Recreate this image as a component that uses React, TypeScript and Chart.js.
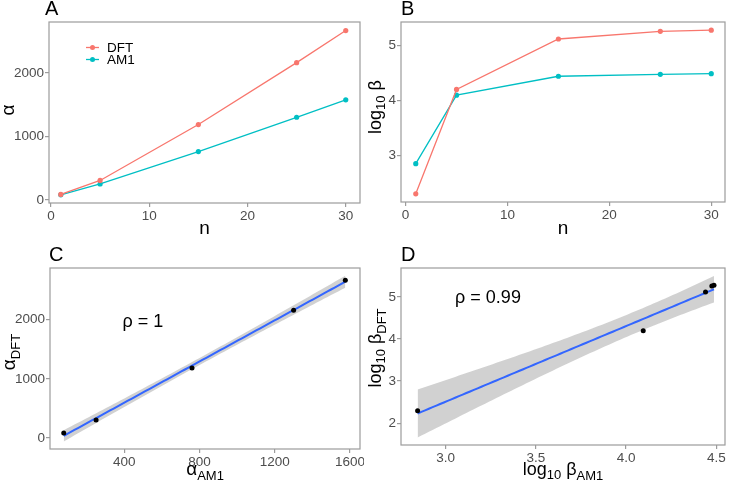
import React, { useEffect, useRef } from 'react';
import { Chart, registerables } from 'chart.js';
Chart.register(...registerables);

// ---------------- data ----------------
const nValues = [1, 5, 15, 25, 30];
const alphaDFT = [85, 305, 1185, 2160, 2665];
const alphaAM1 = [78, 250, 760, 1300, 1575];
const logBetaDFT = [2.295, 4.2, 5.12, 5.26, 5.28];
const logBetaAM1 = [2.845, 4.095, 4.44, 4.475, 4.487];
const seriesNames = ['DFT', 'AM1'];
const rhoAlpha = '1';
const rhoBeta = '0.99';
const panelLetters = ['A', 'B', 'C', 'D'];

const nTicks = [0, 10, 20, 30];
const alphaTicks = [0, 1000, 2000];
const logBetaTicks = [3, 4, 5];
const alphaAM1Ticks = [400, 800, 1200, 1600];
const logBetaDFTTicks = [2, 3, 4, 5];
const logBetaAM1Ticks = [3.0, 3.5, 4.0, 4.5];

// ---------------- style ----------------
const FONT = '"Liberation Sans", Arial, sans-serif';
const RED = '#F8766D';
const TEAL = '#00BFC4';
const FRAME = '#9C9C9C';
const TICKTXT = '#4D4D4D';
const W = 364;
const H = 240;
const T_975_DF3 = 3.182446;

type Seg = { t: string; size: number; dy?: number };

function drawRich(ctx: CanvasRenderingContext2D, segs: Seg[], cx: number, cy: number, rot: number) {
  ctx.save();
  ctx.translate(cx, cy);
  if (rot) ctx.rotate(rot);
  ctx.fillStyle = '#000';
  ctx.textBaseline = 'alphabetic';
  ctx.textAlign = 'left';
  const widths = segs.map((s) => {
    ctx.font = `${s.size}px ${FONT}`;
    return ctx.measureText(s.t).width;
  });
  const total = widths.reduce((a, b) => a + b, 0);
  let x = -total / 2;
  const base = segs[0].size * 0.36;
  segs.forEach((s, i) => {
    ctx.font = `${s.size}px ${FONT}`;
    ctx.fillText(s.t, x, base + (s.dy || 0));
    x += widths[i];
  });
  ctx.restore();
}

type Area = { l: number; t: number; r: number; b: number };

type Deco = {
  letter: string;
  letterX: number;
  letterY: number;
  xTitle: Seg[];
  xTitleY: number;
  yTitle: Seg[];
  yTitleX: number;
  yTitleY: number;
  extra?: (ctx: CanvasRenderingContext2D, chart: any) => void;
};

function decoPlugin(d: Deco) {
  return {
    id: 'deco',
    beforeDatasetsDraw(chart: any) {
      const ctx = chart.ctx as CanvasRenderingContext2D;
      const a = chart.chartArea;
      ctx.save();
      ctx.strokeStyle = FRAME;
      ctx.lineWidth = 1.2;
      ctx.strokeRect(a.left, a.top, a.right - a.left, a.bottom - a.top);
      ctx.restore();
    },
    afterDraw(chart: any) {
      const ctx = chart.ctx as CanvasRenderingContext2D;
      const a = chart.chartArea;
      ctx.save();
      ctx.fillStyle = '#000';
      ctx.font = `20px ${FONT}`;
      ctx.textBaseline = 'alphabetic';
      ctx.textAlign = 'left';
      ctx.fillText(d.letter, d.letterX, d.letterY);
      ctx.restore();
      drawRich(ctx, d.xTitle, (a.left + a.right) / 2, d.xTitleY, 0);
      drawRich(ctx, d.yTitle, d.yTitleX, d.yTitleY, -Math.PI / 2);
      if (d.extra) d.extra(ctx, chart);
    },
  };
}

function axisOpts(min: number, max: number, ticks: number[], area: Area, isX: boolean, fmt?: (v: number) => string) {
  return {
    type: 'linear',
    position: isX ? 'bottom' : 'left',
    min,
    max,
    afterBuildTicks: (scale: any) => {
      scale.ticks = ticks.map((v) => ({ value: v }));
    },
    afterFit: (scale: any) => {
      if (isX) {
        scale.height = H - area.b;
        scale.paddingLeft = 0;
        scale.paddingRight = 0;
      } else {
        scale.width = area.l;
        scale.paddingTop = 0;
        scale.paddingBottom = 0;
      }
    },
    grid: { display: true, drawOnChartArea: false, drawTicks: true, tickLength: 4, color: FRAME, lineWidth: 1.2 },
    border: { display: false },
    ticks: {
      color: TICKTXT,
      font: { family: FONT, size: 13.5 },
      padding: 1,
      maxRotation: 0,
      autoSkip: false,
      callback: (v: any) => (fmt ? fmt(Number(v)) : String(v)),
    },
    title: { display: false },
  };
}

function baseOptions(area: Area, scales: any) {
  return {
    responsive: false,
    animation: false,
    devicePixelRatio: 1,
    layout: { padding: { left: 0, top: area.t, right: W - area.r, bottom: 0 } },
    plugins: { legend: { display: false }, tooltip: { enabled: false }, title: { display: false } },
    scales,
    elements: { line: { tension: 0 } },
  };
}

function fitBand(xs: number[], ys: number[]) {
  const n = xs.length;
  const xbar = xs.reduce((a, b) => a + b, 0) / n;
  const ybar = ys.reduce((a, b) => a + b, 0) / n;
  let sxx = 0;
  let sxy = 0;
  xs.forEach((x, i) => {
    sxx += (x - xbar) * (x - xbar);
    sxy += (x - xbar) * (ys[i] - ybar);
  });
  const slope = sxy / sxx;
  const icpt = ybar - slope * xbar;
  let sse = 0;
  xs.forEach((x, i) => {
    const r = ys[i] - (icpt + slope * x);
    sse += r * r;
  });
  const s = Math.sqrt(sse / (n - 2));
  const xmin = Math.min(...xs);
  const xmax = Math.max(...xs);
  const fit: { x: number; y: number }[] = [];
  const up: { x: number; y: number }[] = [];
  const lo: { x: number; y: number }[] = [];
  const steps = 80;
  for (let k = 0; k < steps; k++) {
    const x = xmin + ((xmax - xmin) * k) / (steps - 1);
    const y = icpt + slope * x;
    const se = s * Math.sqrt(1 / n + ((x - xbar) * (x - xbar)) / sxx);
    fit.push({ x, y });
    up.push({ x, y: y + T_975_DF3 * se });
    lo.push({ x, y: y - T_975_DF3 * se });
  }
  return { fit, up, lo };
}

function pairs(xs: number[], ys: number[]) {
  return xs.map((x, i) => ({ x, y: ys[i] }));
}

function lineDs(label: string, xs: number[], ys: number[], color: string) {
  return {
    type: 'line',
    label,
    data: pairs(xs, ys),
    borderColor: color,
    backgroundColor: color,
    borderWidth: 1.3,
    pointRadius: 2.6,
    pointBorderWidth: 0,
    pointBackgroundColor: color,
    fill: false,
    showLine: true,
  };
}

function smoothDatasets(xs: number[], ys: number[]) {
  const { fit, up, lo } = fitBand(xs, ys);
  return [
    {
      type: 'scatter',
      label: 'points',
      data: pairs(xs, ys),
      pointRadius: 2.5,
      pointBorderWidth: 0,
      pointBackgroundColor: '#000',
      backgroundColor: '#000',
    },
    {
      type: 'line',
      label: 'fit',
      data: fit,
      borderColor: '#3366FF',
      borderWidth: 2,
      pointRadius: 0,
      fill: false,
    },
    {
      type: 'line',
      label: 'upper',
      data: up,
      borderWidth: 0,
      borderColor: 'rgba(0,0,0,0)',
      pointRadius: 0,
      fill: '+1',
      backgroundColor: 'rgba(153,153,153,0.45)',
    },
    {
      type: 'line',
      label: 'lower',
      data: lo,
      borderWidth: 0,
      borderColor: 'rgba(0,0,0,0)',
      pointRadius: 0,
      fill: false,
    },
  ];
}

function makePanelA(canvas: HTMLCanvasElement) {
  const area: Area = { l: 49, t: 22, r: 360, b: 203 };
  const deco = decoPlugin({
    letter: panelLetters[0],
    letterX: 45,
    letterY: 15,
    xTitle: [{ t: 'n', size: 19 }],
    xTitleY: 227,
    yTitle: [{ t: 'α', size: 19 }],
    yTitleX: 7,
    yTitleY: 110,
    extra: (ctx) => {
      const colors = [RED, TEAL];
      seriesNames.forEach((name, i) => {
        const y = 47.5 + i * 12;
        ctx.save();
        ctx.strokeStyle = colors[i];
        ctx.lineWidth = 1.3;
        ctx.beginPath();
        ctx.moveTo(86, y);
        ctx.lineTo(99, y);
        ctx.stroke();
        ctx.fillStyle = colors[i];
        ctx.beginPath();
        ctx.arc(92.5, y, 2.5, 0, Math.PI * 2);
        ctx.fill();
        ctx.fillStyle = '#000';
        ctx.font = `13.5px ${FONT}`;
        ctx.textBaseline = 'middle';
        ctx.textAlign = 'left';
        ctx.fillText(name, 107, y + 0.5);
        ctx.restore();
      });
    },
  });
  return new Chart(canvas, {
    type: 'line',
    data: { datasets: [lineDs(seriesNames[0], nValues, alphaDFT, RED), lineDs(seriesNames[1], nValues, alphaAM1, TEAL)] as any },
    options: baseOptions(area, {
      x: axisOpts(-0.2, 31.45, nTicks, area, true),
      y: axisOpts(-50, 2800, alphaTicks, area, false),
    }) as any,
    plugins: [deco],
  });
}

function makePanelB(canvas: HTMLCanvasElement) {
  const area: Area = { l: 36, t: 22, r: 363, b: 202 };
  const deco = decoPlugin({
    letter: panelLetters[1],
    letterX: 36,
    letterY: 15,
    xTitle: [{ t: 'n', size: 19 }],
    xTitleY: 227,
    yTitle: [
      { t: 'log', size: 18 },
      { t: '10', size: 13, dy: 4 },
      { t: ' β', size: 18 },
    ],
    yTitleX: 10,
    yTitleY: 107,
  });
  return new Chart(canvas, {
    type: 'line',
    data: { datasets: [lineDs(seriesNames[0], nValues, logBetaDFT, RED), lineDs(seriesNames[1], nValues, logBetaAM1, TEAL)] as any },
    options: baseOptions(area, {
      x: axisOpts(-0.45, 31.35, nTicks, area, true),
      y: axisOpts(2.146, 5.43, logBetaTicks, area, false),
    }) as any,
    plugins: [deco],
  });
}

function makePanelC(canvas: HTMLCanvasElement) {
  const area: Area = { l: 50, t: 28, r: 362, b: 209 };
  const deco = decoPlugin({
    letter: panelLetters[2],
    letterX: 49,
    letterY: 21,
    xTitle: [
      { t: 'α', size: 19 },
      { t: 'AM1', size: 13, dy: 5 },
    ],
    xTitleY: 228,
    yTitle: [
      { t: 'α', size: 19 },
      { t: 'DFT', size: 13, dy: 5 },
    ],
    yTitleX: 8,
    yTitleY: 112,
    extra: (ctx) => {
      drawRich(ctx, [{ t: 'ρ = ' + rhoAlpha, size: 18 }], 143, 81, 0);
    },
  });
  return new Chart(canvas, {
    type: 'line',
    data: { datasets: smoothDatasets(alphaAM1, alphaDFT) as any },
    options: baseOptions(area, {
      x: axisOpts(5, 1653, alphaAM1Ticks, area, true),
      y: axisOpts(-186, 2873, alphaTicks, area, false),
    }) as any,
    plugins: [deco],
  });
}

function makePanelD(canvas: HTMLCanvasElement) {
  const area: Area = { l: 36, t: 28, r: 363, b: 205 };
  const deco = decoPlugin({
    letter: panelLetters[3],
    letterX: 36,
    letterY: 21,
    xTitle: [
      { t: 'log', size: 18 },
      { t: '10', size: 13, dy: 4 },
      { t: ' β', size: 18 },
      { t: 'AM1', size: 13, dy: 5 },
    ],
    xTitleY: 229,
    yTitle: [
      { t: 'log', size: 18 },
      { t: '10', size: 13, dy: 4 },
      { t: ' β', size: 18 },
      { t: 'DFT', size: 13, dy: 5 },
    ],
    yTitleX: 10,
    yTitleY: 108,
    extra: (ctx) => {
      drawRich(ctx, [{ t: 'ρ = ' + rhoBeta, size: 18 }], 123, 57, 0);
    },
  });
  return new Chart(canvas, {
    type: 'line',
    data: { datasets: smoothDatasets(logBetaAM1, logBetaDFT) as any },
    options: baseOptions(area, {
      x: axisOpts(2.753, 4.548, logBetaAM1Ticks, area, true, (v) => v.toFixed(1)),
      y: axisOpts(1.48, 5.69, logBetaDFTTicks, area, false),
    }) as any,
    plugins: [deco],
  });
}

export default function App() {
  const refA = useRef<HTMLCanvasElement>(null);
  const refB = useRef<HTMLCanvasElement>(null);
  const refC = useRef<HTMLCanvasElement>(null);
  const refD = useRef<HTMLCanvasElement>(null);

  useEffect(() => {
    document.body.style.margin = '0';
    document.body.style.background = '#fff';
    const charts = [
      makePanelA(refA.current!),
      makePanelB(refB.current!),
      makePanelC(refC.current!),
      makePanelD(refD.current!),
    ];
    return () => charts.forEach((c) => c.destroy());
  }, []);

  const pos = (left: number, top: number): React.CSSProperties => ({
    position: 'absolute',
    left,
    top,
    width: W,
    height: H,
  });

  return (
    <div style={{ position: 'relative', width: 729, height: 480, background: '#fff', overflow: 'hidden' }}>
      <canvas ref={refA} width={W} height={H} style={pos(0, 0)} />
      <canvas ref={refB} width={W} height={H} style={pos(365, 0)} />
      <canvas ref={refC} width={W} height={H} style={pos(0, 240)} />
      <canvas ref={refD} width={W} height={H} style={pos(365, 240)} />
    </div>
  );
}
